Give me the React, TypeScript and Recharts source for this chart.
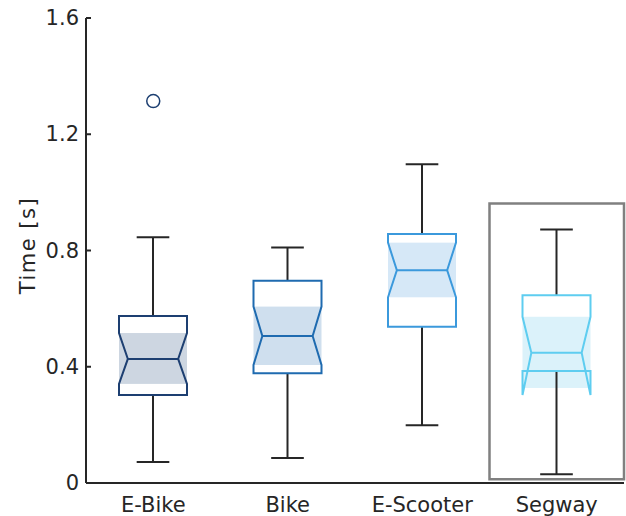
import React from "react";
import {
  ComposedChart,
  Bar,
  Scatter,
  XAxis,
  YAxis,
  Label,
  ReferenceArea,
} from "recharts";

// Box plot statistics (seconds)
const CATEGORIES = ["E-Bike", "Bike", "E-Scooter", "Segway"];
const WHISKER_LO = [0.072, 0.086, 0.199, 0.03];
const Q1 = [0.303, 0.378, 0.538, 0.385];
const NOTCH_LO = [0.341, 0.406, 0.639, 0.303];
const SHADE_LO = [0.341, 0.406, 0.639, 0.327];
const MEDIAN = [0.427, 0.506, 0.732, 0.448];
const NOTCH_HI = [0.516, 0.607, 0.827, 0.572];
const Q3 = [0.575, 0.696, 0.857, 0.646];
const WHISKER_HI = [0.846, 0.81, 1.097, 0.872];

const OUTLIER_CATEGORIES = ["E-Bike"];
const OUTLIER_VALUES = [1.314];

const Y_TICKS = [0, 0.4, 0.8, 1.2, 1.6];

// highlighted group
const HIGHLIGHT_CATEGORY = "Segway";
const HIGHLIGHT_RANGE = [0.013, 0.962];

const STROKES = ["#1d3f71", "#1f6bb0", "#3b99dc", "#5ecdf0"];
const FILLS = ["#cdd6e1", "#cfdfee", "#d6e8f7", "#dbf2fa"];

const AXIS_COLOR = "#262626";
const FONT = "'DejaVu Sans', Verdana, sans-serif";
const FONT_SIZE = 21;
const TICK_MARGIN = 7;

const rows = CATEGORIES.map((name, i) => ({
  name,
  range: [WHISKER_LO[i], WHISKER_HI[i]],
  lo: WHISKER_LO[i],
  hi: WHISKER_HI[i],
  q1: Q1[i],
  notchLo: NOTCH_LO[i],
  shadeLo: SHADE_LO[i],
  median: MEDIAN[i],
  notchHi: NOTCH_HI[i],
  q3: Q3[i],
  idx: i,
}));

const outliers = OUTLIER_CATEGORIES.map((name, i) => ({ name, value: OUTLIER_VALUES[i] }));

function BoxShape(props: any) {
  const { x, y, width, height, payload } = props;
  if (!payload) return null;
  const top = Math.min(y, y + height);
  const bottom = Math.max(y, y + height);
  // linear map along the bar (bar spans whisker lo..hi in axis space)
  const px = (v: number) => bottom - ((v - payload.lo) / (payload.hi - payload.lo)) * (bottom - top);

  const L = x;
  const R = x + width;
  const cx = x + width / 2;
  const inset = width * 0.13;
  const cap = width * 0.24;
  const stroke = STROKES[payload.idx];
  const fill = FILLS[payload.idx];

  const yq1 = px(payload.q1);
  const yq3 = px(payload.q3);
  const ynl = px(payload.notchLo);
  const ynh = px(payload.notchHi);
  const ym = px(payload.median);

  const outline = [
    [L, yq1],
    [L, ynl],
    [L + inset, ym],
    [L, ynh],
    [L, yq3],
    [R, yq3],
    [R, ynh],
    [R - inset, ym],
    [R, ynl],
    [R, yq1],
  ]
    .map((p) => p.join(","))
    .join(" ");

  return (
    <g>
      <rect x={L} y={ynh} width={width} height={px(payload.shadeLo) - ynh} fill={fill} />
      <line x1={cx} x2={cx} y1={top} y2={yq3} stroke={AXIS_COLOR} strokeWidth={2} />
      <line x1={cx} x2={cx} y1={yq1} y2={bottom} stroke={AXIS_COLOR} strokeWidth={2} />
      <line x1={cx - cap} x2={cx + cap} y1={top} y2={top} stroke={AXIS_COLOR} strokeWidth={2} />
      <line x1={cx - cap} x2={cx + cap} y1={bottom} y2={bottom} stroke={AXIS_COLOR} strokeWidth={2} />
      <polygon points={outline} fill="none" stroke={stroke} strokeWidth={2} strokeLinejoin="miter" />
      <line x1={L + inset} x2={R - inset} y1={ym} y2={ym} stroke={stroke} strokeWidth={2} />
    </g>
  );
}

function OutlierShape(props: any) {
  const { cx, cy } = props;
  return <circle cx={cx} cy={cy} r={6.5} fill="#fff" stroke={STROKES[0]} strokeWidth={1.5} />;
}

function YTick(props: any) {
  const { x, y, payload } = props;
  const axisX = x + TICK_MARGIN;
  return (
    <g>
      <line x1={axisX} x2={axisX + 5} y1={y} y2={y} stroke={AXIS_COLOR} strokeWidth={2} />
      <text
        x={x}
        y={y}
        textAnchor="end"
        dominantBaseline="central"
        fill={AXIS_COLOR}
        fontSize={FONT_SIZE}
        fontFamily={FONT}
      >
        {String(payload.value)}
      </text>
    </g>
  );
}

export default function App() {
  return (
    <div style={{ width: 626, height: 516, background: "#fff" }}>
      <style>{`body{margin:0;background:#fff}`}</style>
      <ComposedChart
        width={626}
        height={516}
        data={rows}
        margin={{ top: 18, right: 2, bottom: 0, left: 0 }}
        style={{ fontFamily: FONT }}
      >
        <XAxis
          dataKey="name"
          type="category"
          allowDuplicatedCategory={false}
          height={33}
          tickSize={0}
          tickMargin={14}
          tickLine={false}
          axisLine={{ stroke: AXIS_COLOR, strokeWidth: 2 }}
          tick={{ fill: AXIS_COLOR, fontSize: FONT_SIZE, fontFamily: FONT }}
          interval={0}
        />
        <YAxis
          type="number"
          domain={[0, 1.6]}
          ticks={Y_TICKS}
          width={86}
          tickSize={0}
          tickMargin={TICK_MARGIN}
          tickLine={false}
          axisLine={{ stroke: AXIS_COLOR, strokeWidth: 2 }}
          tick={<YTick />}
          interval={0}
        >
          <Label
            value="Time [s]"
            angle={-90}
            position="center"
            dx={-15}
            dy={-5}
            fill={AXIS_COLOR}
            fontSize={FONT_SIZE}
            fontFamily={FONT}
            style={{ letterSpacing: 1.5 }}
          />
        </YAxis>
        <ReferenceArea
          x1={HIGHLIGHT_CATEGORY}
          x2={HIGHLIGHT_CATEGORY}
          y1={HIGHLIGHT_RANGE[0]}
          y2={HIGHLIGHT_RANGE[1]}
          fill="none"
          stroke="#808080"
          strokeWidth={2.5}
          ifOverflow="visible"
        />
        <Bar dataKey="range" barSize={68} shape={<BoxShape />} isAnimationActive={false} />
        <Scatter data={outliers} dataKey="value" shape={<OutlierShape />} isAnimationActive={false} />
      </ComposedChart>
    </div>
  );
}
